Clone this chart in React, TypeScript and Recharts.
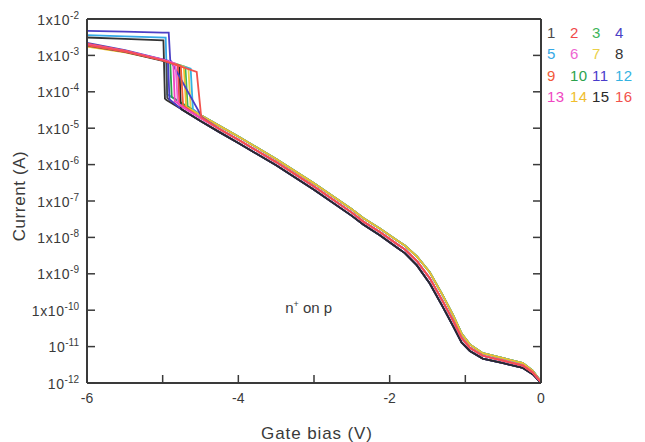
import React from "react";
import { LineChart, Line, XAxis, YAxis, ReferenceDot } from "recharts";

const FONT = '"Liberation Sans", Arial, Helvetica, sans-serif';
const INK = "#3a3a3a";

// gate bias (V) ticks and current decades (A)
const X_TICKS = [-6, -5, -4, -3, -2, -1, 0];
const Y_TICKS = [1e-12, 1e-11, 1e-10, 1e-9, 1e-8, 1e-7, 1e-6, 1e-5, 1e-4, 1e-3, 1e-2];

// common decay band after the jump (three edges of the band)
const BAND_V = [-4.95, -4.75, -4.5, -4.25, -4.0, -3.5, -3.0, -2.5, -2.35, -2.13, -1.9, -1.8, -1.64, -1.47, -1.3, -1.16, -1.05, -0.94, -0.77, -0.5, -0.24, -0.11, 0];
const BAND_UPPER = [8.8e-5, 4.9e-5, 2.3e-5, 1.16e-5, 5.9e-6, 1.43e-6, 3.05e-7, 5.9e-8, 3.4e-8, 1.75e-8, 8.2e-9, 6.0e-9, 3.0e-9, 1.1e-9, 2.6e-10, 7.2e-11, 2.3e-11, 1.15e-11, 6.6e-12, 4.8e-12, 3.5e-12, 2.2e-12, 1.1e-12];
const BAND_MID = [7.2e-5, 4.0e-5, 1.91e-5, 9.5e-6, 4.8e-6, 1.17e-6, 2.5e-7, 4.8e-8, 2.75e-8, 1.41e-8, 6.5e-9, 4.7e-9, 2.24e-9, 7.6e-10, 1.78e-10, 5.1e-11, 1.74e-11, 9.3e-12, 5.6e-12, 4.1e-12, 3.0e-12, 1.95e-12, 1.05e-12];
const BAND_LOWER = [5.9e-5, 3.3e-5, 1.57e-5, 7.8e-6, 3.9e-6, 9.6e-7, 2.05e-7, 3.9e-8, 2.25e-8, 1.15e-8, 5.2e-9, 3.7e-9, 1.7e-9, 5.4e-10, 1.25e-10, 3.6e-11, 1.3e-11, 7.6e-12, 4.7e-12, 3.5e-12, 2.6e-12, 1.75e-12, 1.0e-12];

const BANDS: Record<string, number[]> = { upper: BAND_UPPER, mid: BAND_MID, lower: BAND_LOWER };

// per-device part before joining the band
const SERIES = [
  { name: "1", color: "#4a4a4a", band: "lower", headV: [-6, -5.5, -5.0, -4.95, -4.94], headI: [1.85e-3, 1.25e-3, 7.1e-4, 6.7e-4, 6.8e-5] },
  { name: "2", color: "#f0484a", band: "mid", headV: [-6, -5.5, -5.0, -4.8, -4.78], headI: [2.0e-3, 1.32e-3, 7.5e-4, 5.5e-4, 4.5e-5] },
  { name: "3", color: "#3cb55a", band: "upper", headV: [-6, -5.5, -5.0, -4.7, -4.67], headI: [1.9e-3, 1.3e-3, 7.6e-4, 4.8e-4, 4.0e-5] },
  { name: "4", color: "#4b3fc6", band: "mid", headV: [-6, -5.5, -5.0, -4.92, -4.9, -4.48], headI: [4.7e-3, 4.5e-3, 4.25e-3, 4.2e-3, 7.5e-4, 2.0e-5] },
  { name: "5", color: "#36a9e6", band: "upper", headV: [-6, -5.5, -4.96, -4.94], headI: [3.6e-3, 3.35e-3, 3.1e-3, 8.5e-5] },
  { name: "6", color: "#ee66d2", band: "mid", headV: [-6, -5.5, -5.0, -4.83, -4.8], headI: [2.05e-3, 1.33e-3, 7.6e-4, 5.9e-4, 5.0e-5] },
  { name: "7", color: "#ead048", band: "upper", headV: [-6, -5.5, -5.0, -4.66, -4.63], headI: [1.8e-3, 1.25e-3, 7.5e-4, 4.5e-4, 3.6e-5] },
  { name: "8", color: "#333333", band: "lower", headV: [-6, -5.5, -4.99, -4.97], headI: [3.1e-3, 2.85e-3, 2.6e-3, 6.5e-5] },
  { name: "9", color: "#f25a3a", band: "mid", headV: [-6, -5.5, -5.0, -4.76, -4.73], headI: [2.1e-3, 1.35e-3, 7.4e-4, 5.1e-4, 4.2e-5] },
  { name: "10", color: "#2ca24c", band: "upper", headV: [-6, -5.5, -5.0, -4.9, -4.88], headI: [1.9e-3, 1.28e-3, 7.3e-4, 6.6e-4, 7.2e-5] },
  { name: "11", color: "#4a3ccb", band: "lower", headV: [-6, -5.5, -5.0, -4.93, -4.91], headI: [2.2e-3, 1.4e-3, 7.8e-4, 7.1e-4, 6.2e-5] },
  { name: "12", color: "#34b3e2", band: "upper", headV: [-6, -5.5, -5.0, -4.63, -4.6], headI: [1.85e-3, 1.27e-3, 7.4e-4, 4.3e-4, 3.3e-5] },
  { name: "13", color: "#f046c2", band: "mid", headV: [-6, -5.5, -5.0, -4.86, -4.84], headI: [2.0e-3, 1.3e-3, 7.5e-4, 6.2e-4, 5.6e-5] },
  { name: "14", color: "#f0be2e", band: "upper", headV: [-6, -5.5, -5.0, -4.72, -4.69], headI: [1.75e-3, 1.22e-3, 7.3e-4, 4.8e-4, 3.9e-5] },
  { name: "15", color: "#2a2a2a", band: "lower", headV: [-6, -5.5, -5.0, -4.78, -4.76], headI: [1.95e-3, 1.3e-3, 7.4e-4, 5.2e-4, 3.8e-5] },
  { name: "16", color: "#f2524c", band: "mid", headV: [-6, -5.5, -5.0, -4.55, -4.49], headI: [1.9e-3, 1.28e-3, 7.3e-4, 3.5e-4, 2.0e-5] },
];

// upper edge first, dark lower edge next, red/pink middle on top
const DRAW_ORDER = ["upper", "lower", "mid"];

function buildPoints(s: typeof SERIES[number]) {
  const head = s.headV.map((v, k) => ({ v, i: s.headI[k] }));
  const last = s.headV[s.headV.length - 1];
  const vals = BANDS[s.band];
  const tail = BAND_V.map((v, k) => ({ v, i: vals[k] })).filter(p => p.v > last);
  return head.concat(tail);
}

function LeftTick({ x, y, payload }: any) {
  const exp = Math.round(Math.log10(payload.value));
  const mant = exp >= -10 ? "1x10" : "10";
  return (
    <g>
      <line x1={x} x2={x + 8} y1={y} y2={y} stroke={INK} strokeWidth={1.5} />
      <text x={x - 8} y={y + 5.5} textAnchor="end" fill={INK} fontSize={14} fontFamily={FONT}>
        <tspan letterSpacing={0.6}>{mant}</tspan>
        <tspan dy={-6} fontSize={10}>{String(exp)}</tspan>
      </text>
    </g>
  );
}

function RightTick({ x, y }: any) {
  return <line x1={x} x2={x - 8} y1={y} y2={y} stroke={INK} strokeWidth={1.5} />;
}

function BottomTick({ x, y, payload }: any) {
  const v = payload.value;
  return (
    <g>
      <line x1={x} x2={x} y1={y} y2={y - 8} stroke={INK} strokeWidth={1.5} />
      {v % 2 === 0 && (
        <text x={x} y={y + 20} textAnchor="middle" fill={INK} fontSize={14} fontFamily={FONT}>{String(v)}</text>
      )}
    </g>
  );
}

function TopTick({ x, y }: any) {
  return <line x1={x} x2={x} y1={y} y2={y + 8} stroke={INK} strokeWidth={1.5} />;
}

export default function App() {
  const ordered = DRAW_ORDER.flatMap(b => SERIES.filter(s => s.band === b));
  const axisLine = { stroke: INK, strokeWidth: 2 };
  return (
    <div style={{ position: "relative", width: 637, height: 434, fontFamily: FONT }}>
      <LineChart width={637} height={434} margin={{ top: 9, right: 102, bottom: 29, left: 0 }}>
        <XAxis
          xAxisId="b" dataKey="v" type="number" domain={[-6, 0]} ticks={X_TICKS} interval={0}
          tickSize={0} tickMargin={0} tickLine={false} axisLine={axisLine} height={30}
          tick={(p: any) => <BottomTick {...p} />}
          label={(p: any) => {
            const vb = p.viewBox || { x: 79, y: 375, width: 454 };
            return (
              <text x={vb.x + vb.width / 2 + 3} y={vb.y + 56} textAnchor="middle" fill={INK} fontSize={17} letterSpacing={0.9} fontFamily={FONT}>
                Gate bias (V)
              </text>
            );
          }}
        />
        <XAxis
          xAxisId="t" orientation="top" dataKey="v" type="number" domain={[-6, 0]} ticks={X_TICKS} interval={0}
          tickSize={0} tickMargin={0} tickLine={false} axisLine={axisLine} height={2}
          tick={(p: any) => <TopTick {...p} />}
        />
        <YAxis
          yAxisId="l" type="number" scale="log" domain={[1e-12, 1e-2]} allowDataOverflow ticks={Y_TICKS} interval={0}
          tickSize={0} tickMargin={0} tickLine={false} axisLine={axisLine} width={79}
          tick={(p: any) => <LeftTick {...p} />}
          label={(p: any) => {
            const vb = p.viewBox || { x: 0, y: 11, height: 364 };
            const cy = vb.y + vb.height / 2 - 5;
            return (
              <text transform={`translate(${vb.x + 17}, ${cy}) rotate(-90)`} textAnchor="middle" fill={INK} fontSize={17} letterSpacing={0.6} fontFamily={FONT}>
                Current (A)
              </text>
            );
          }}
        />
        <YAxis
          yAxisId="r" orientation="right" type="number" scale="log" domain={[1e-12, 1e-2]} allowDataOverflow ticks={Y_TICKS} interval={0}
          tickSize={0} tickMargin={0} tickLine={false} axisLine={axisLine} width={2}
          tick={(p: any) => <RightTick {...p} />}
        />
        {ordered.map(s => (
          <Line
            key={s.name} name={s.name} xAxisId="b" yAxisId="l" data={buildPoints(s)} dataKey="i"
            type="linear" stroke={s.color} strokeWidth={1.8} dot={false} activeDot={false}
            isAnimationActive={false}
          />
        ))}
        <ReferenceDot
          xAxisId="b" yAxisId="l" x={-3.38} y={1e-10} r={0} fill="none" stroke="none"
          label={(p: any) => {
            const vb = p.viewBox || { x: 277, y: 302 };
            return (
              <text x={vb.x} y={vb.y + 3} fill={INK} fontSize={15} fontFamily={FONT}>
                n<tspan dy={-6} fontSize={9}>+</tspan><tspan dy={6}> on p</tspan>
              </text>
            );
          }}
        />
      </LineChart>
      <div
        style={{
          position: "absolute", left: 539, top: 14, display: "grid",
          gridTemplateColumns: "23px 22px 23px 22px", gridAutoRows: "21.3px",
          fontSize: 15, lineHeight: "21.3px", letterSpacing: 0.5,
        }}
      >
        {SERIES.map(s => (
          <span key={s.name} style={{ color: s.color }}>{s.name}</span>
        ))}
      </div>
    </div>
  );
}
